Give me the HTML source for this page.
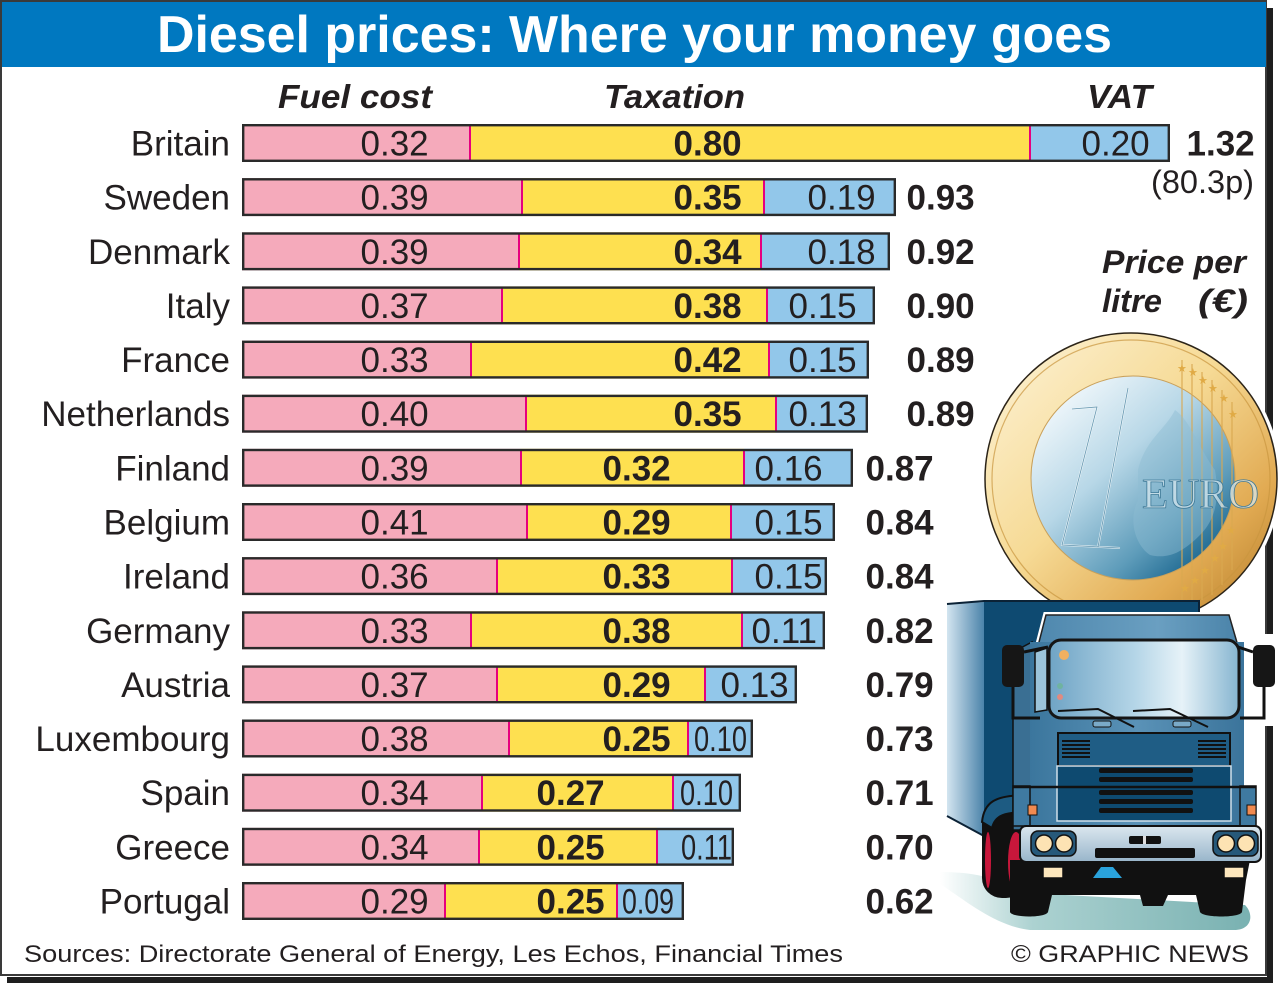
<!DOCTYPE html>
<html><head><meta charset="utf-8"><style>
html,body{margin:0;padding:0;background:#fff;}
svg{display:block;}
text{font-family:"Liberation Sans",Arial,sans-serif;fill:#231f20;}
.c{font-size:35px;text-anchor:end;}
.n{font-size:35px;}
.b{font-size:35px;font-weight:bold;}
.h{font-size:33px;font-weight:bold;font-style:italic;}
</style></head><body>
<svg width="1287" height="983" viewBox="0 0 1287 983" xmlns="http://www.w3.org/2000/svg">
<defs>
<linearGradient id="gold" x1="0" y1="0" x2="1" y2="1">
<stop offset="0" stop-color="#fdf4da"/><stop offset=".45" stop-color="#f6da95"/><stop offset=".75" stop-color="#e1aa52"/><stop offset="1" stop-color="#b07826"/></linearGradient>
<linearGradient id="cb" x1=".1" y1=".1" x2=".85" y2=".95">
<stop offset="0" stop-color="#f3f9fc"/><stop offset=".4" stop-color="#b7d7e7"/><stop offset=".75" stop-color="#5e9cba"/><stop offset="1" stop-color="#13608a"/></linearGradient>
<linearGradient id="teal" x1="0" y1="0" x2="1" y2="0">
<stop offset="0" stop-color="#ffffff"/><stop offset=".3" stop-color="#acd2d1"/><stop offset="1" stop-color="#79b1b1"/></linearGradient>
<linearGradient id="side" x1="0" y1="0" x2="1" y2="0">
<stop offset="0" stop-color="#d3e5f0"/><stop offset="1" stop-color="#4b83aa"/></linearGradient>
<linearGradient id="cab" x1="0" y1="0" x2="1" y2="0">
<stop offset="0" stop-color="#3b769d"/><stop offset=".5" stop-color="#5a92b7"/><stop offset="1" stop-color="#3b749b"/></linearGradient>
<linearGradient id="roof" x1="0" y1="0" x2="1" y2="0">
<stop offset="0" stop-color="#4f88ae"/><stop offset=".6" stop-color="#6a9fc1"/><stop offset="1" stop-color="#4a83a9"/></linearGradient>
<linearGradient id="glass" x1="0" y1="0" x2="1" y2="0">
<stop offset="0" stop-color="#6fa4c5"/><stop offset=".45" stop-color="#b4d5e7"/><stop offset=".7" stop-color="#e6f2f8"/><stop offset="1" stop-color="#86b5d0"/></linearGradient>
<linearGradient id="bump" x1="0" y1="0" x2="0" y2="1">
<stop offset="0" stop-color="#dbe7ef"/><stop offset="1" stop-color="#98b5ca"/></linearGradient>
</defs>

<!-- frame -->
<rect x="1267" y="8" width="6" height="975" fill="#1e1e1e"/>
<rect x="7" y="977" width="1266" height="6" fill="#1e1e1e"/>
<rect x="1" y="1" width="1265" height="974" fill="#fff" stroke="#3a3a3a" stroke-width="2"/>
<rect x="2" y="2" width="1264" height="65" fill="#0078c0"/>
<text x="157" y="52" font-size="52" font-weight="bold" style="fill:#fff" textLength="955" lengthAdjust="spacingAndGlyphs">Diesel prices: Where your money goes</text>

<!-- headers -->
<text class="h" x="278" y="108" textLength="154" lengthAdjust="spacingAndGlyphs">Fuel cost</text>
<text class="h" x="604" y="108" textLength="141" lengthAdjust="spacingAndGlyphs">Taxation</text>
<text class="h" x="1087" y="108" textLength="65" lengthAdjust="spacingAndGlyphs">VAT</text>

<!-- rows -->
<g transform="translate(0,124)">
<rect x="242" y="0" width="228" height="38" fill="#f5aabb"/><rect x="470" y="0" width="560" height="38" fill="#fee050"/><rect x="1030" y="0" width="140" height="38" fill="#92c7ea"/>
<line x1="470" y1="2" x2="470" y2="36" stroke="#e6007e" stroke-width="2"/><line x1="1030" y1="2" x2="1030" y2="36" stroke="#e6007e" stroke-width="2"/>
<rect x="243.2" y="1.2" width="925.6" height="35.6" fill="none" stroke="#2a2a2a" stroke-width="2.4"/>
<text class="c" x="230" y="31.5">Britain</text><text class="n" x="360.5" y="31.5">0.32</text><text class="b" x="673.5" y="31.5">0.80</text><text class="n" x="1081.5" y="31.5">0.20</text><text class="b" x="1186.5" y="31.5">1.32</text>
</g>
<text x="1151" y="193" font-size="32" textLength="103" lengthAdjust="spacingAndGlyphs">(80.3p)</text>

<g transform="translate(0,178.1)">
<rect x="242" y="0" width="280" height="38" fill="#f5aabb"/><rect x="522" y="0" width="242" height="38" fill="#fee050"/><rect x="764" y="0" width="132" height="38" fill="#92c7ea"/>
<line x1="522" y1="2" x2="522" y2="36" stroke="#e6007e" stroke-width="2"/><line x1="764" y1="2" x2="764" y2="36" stroke="#e6007e" stroke-width="2"/>
<rect x="243.2" y="1.2" width="651.6" height="35.6" fill="none" stroke="#2a2a2a" stroke-width="2.4"/>
<text class="c" x="230" y="31.5">Sweden</text><text class="n" x="360.5" y="31.5">0.39</text><text class="b" x="673.5" y="31.5">0.35</text><text class="n" x="807.5" y="31.5">0.19</text><text class="b" x="906.5" y="31.5">0.93</text>
</g>

<g transform="translate(0,232.3)">
<rect x="242" y="0" width="277" height="38" fill="#f5aabb"/><rect x="519" y="0" width="242" height="38" fill="#fee050"/><rect x="761" y="0" width="129" height="38" fill="#92c7ea"/>
<line x1="519" y1="2" x2="519" y2="36" stroke="#e6007e" stroke-width="2"/><line x1="761" y1="2" x2="761" y2="36" stroke="#e6007e" stroke-width="2"/>
<rect x="243.2" y="1.2" width="645.6" height="35.6" fill="none" stroke="#2a2a2a" stroke-width="2.4"/>
<text class="c" x="230" y="31.5">Denmark</text><text class="n" x="360.5" y="31.5">0.39</text><text class="b" x="673.5" y="31.5">0.34</text><text class="n" x="807.5" y="31.5">0.18</text><text class="b" x="906.5" y="31.5">0.92</text>
</g>

<g transform="translate(0,286.4)">
<rect x="242" y="0" width="260" height="38" fill="#f5aabb"/><rect x="502" y="0" width="265" height="38" fill="#fee050"/><rect x="767" y="0" width="108" height="38" fill="#92c7ea"/>
<line x1="502" y1="2" x2="502" y2="36" stroke="#e6007e" stroke-width="2"/><line x1="767" y1="2" x2="767" y2="36" stroke="#e6007e" stroke-width="2"/>
<rect x="243.2" y="1.2" width="630.6" height="35.6" fill="none" stroke="#2a2a2a" stroke-width="2.4"/>
<text class="c" x="230" y="31.5">Italy</text><text class="n" x="360.5" y="31.5">0.37</text><text class="b" x="673.5" y="31.5">0.38</text><text class="n" x="788.5" y="31.5">0.15</text><text class="b" x="906.5" y="31.5">0.90</text>
</g>

<g transform="translate(0,340.6)">
<rect x="242" y="0" width="229" height="38" fill="#f5aabb"/><rect x="471" y="0" width="298" height="38" fill="#fee050"/><rect x="769" y="0" width="100" height="38" fill="#92c7ea"/>
<line x1="471" y1="2" x2="471" y2="36" stroke="#e6007e" stroke-width="2"/><line x1="769" y1="2" x2="769" y2="36" stroke="#e6007e" stroke-width="2"/>
<rect x="243.2" y="1.2" width="624.6" height="35.6" fill="none" stroke="#2a2a2a" stroke-width="2.4"/>
<text class="c" x="230" y="31.5">France</text><text class="n" x="360.5" y="31.5">0.33</text><text class="b" x="673.5" y="31.5">0.42</text><text class="n" x="788.5" y="31.5">0.15</text><text class="b" x="906.5" y="31.5">0.89</text>
</g>

<g transform="translate(0,394.7)">
<rect x="242" y="0" width="284" height="38" fill="#f5aabb"/><rect x="526" y="0" width="250" height="38" fill="#fee050"/><rect x="776" y="0" width="92" height="38" fill="#92c7ea"/>
<line x1="526" y1="2" x2="526" y2="36" stroke="#e6007e" stroke-width="2"/><line x1="776" y1="2" x2="776" y2="36" stroke="#e6007e" stroke-width="2"/>
<rect x="243.2" y="1.2" width="623.6" height="35.6" fill="none" stroke="#2a2a2a" stroke-width="2.4"/>
<text class="c" x="230" y="31.5">Netherlands</text><text class="n" x="360.5" y="31.5">0.40</text><text class="b" x="673.5" y="31.5">0.35</text><text class="n" x="788.5" y="31.5">0.13</text><text class="b" x="906.5" y="31.5">0.89</text>
</g>

<g transform="translate(0,448.8)">
<rect x="242" y="0" width="279" height="38" fill="#f5aabb"/><rect x="521" y="0" width="223" height="38" fill="#fee050"/><rect x="744" y="0" width="109" height="38" fill="#92c7ea"/>
<line x1="521" y1="2" x2="521" y2="36" stroke="#e6007e" stroke-width="2"/><line x1="744" y1="2" x2="744" y2="36" stroke="#e6007e" stroke-width="2"/>
<rect x="243.2" y="1.2" width="608.6" height="35.6" fill="none" stroke="#2a2a2a" stroke-width="2.4"/>
<text class="c" x="230" y="31.5">Finland</text><text class="n" x="360.5" y="31.5">0.39</text><text class="b" x="602.5" y="31.5">0.32</text><text class="n" x="754.5" y="31.5">0.16</text><text class="b" x="865.5" y="31.5">0.87</text>
</g>

<g transform="translate(0,503)">
<rect x="242" y="0" width="285" height="38" fill="#f5aabb"/><rect x="527" y="0" width="204" height="38" fill="#fee050"/><rect x="731" y="0" width="104" height="38" fill="#92c7ea"/>
<line x1="527" y1="2" x2="527" y2="36" stroke="#e6007e" stroke-width="2"/><line x1="731" y1="2" x2="731" y2="36" stroke="#e6007e" stroke-width="2"/>
<rect x="243.2" y="1.2" width="590.6" height="35.6" fill="none" stroke="#2a2a2a" stroke-width="2.4"/>
<text class="c" x="230" y="31.5">Belgium</text><text class="n" x="360.5" y="31.5">0.41</text><text class="b" x="602.5" y="31.5">0.29</text><text class="n" x="754.5" y="31.5">0.15</text><text class="b" x="865.5" y="31.5">0.84</text>
</g>

<g transform="translate(0,557.1)">
<rect x="242" y="0" width="255" height="38" fill="#f5aabb"/><rect x="497" y="0" width="235" height="38" fill="#fee050"/><rect x="732" y="0" width="95" height="38" fill="#92c7ea"/>
<line x1="497" y1="2" x2="497" y2="36" stroke="#e6007e" stroke-width="2"/><line x1="732" y1="2" x2="732" y2="36" stroke="#e6007e" stroke-width="2"/>
<rect x="243.2" y="1.2" width="582.6" height="35.6" fill="none" stroke="#2a2a2a" stroke-width="2.4"/>
<text class="c" x="230" y="31.5">Ireland</text><text class="n" x="360.5" y="31.5">0.36</text><text class="b" x="602.5" y="31.5">0.33</text><text class="n" x="754.5" y="31.5">0.15</text><text class="b" x="865.5" y="31.5">0.84</text>
</g>

<g transform="translate(0,611.3)">
<rect x="242" y="0" width="229" height="38" fill="#f5aabb"/><rect x="471" y="0" width="271" height="38" fill="#fee050"/><rect x="742" y="0" width="83" height="38" fill="#92c7ea"/>
<line x1="471" y1="2" x2="471" y2="36" stroke="#e6007e" stroke-width="2"/><line x1="742" y1="2" x2="742" y2="36" stroke="#e6007e" stroke-width="2"/>
<rect x="243.2" y="1.2" width="580.6" height="35.6" fill="none" stroke="#2a2a2a" stroke-width="2.4"/>
<text class="c" x="230" y="31.5">Germany</text><text class="n" x="360.5" y="31.5">0.33</text><text class="b" x="602.5" y="31.5">0.38</text><text class="n" x="751.5" y="31.5">0.11</text><text class="b" x="865.5" y="31.5">0.82</text>
</g>

<g transform="translate(0,665.4)">
<rect x="242" y="0" width="255" height="38" fill="#f5aabb"/><rect x="497" y="0" width="208" height="38" fill="#fee050"/><rect x="705" y="0" width="92" height="38" fill="#92c7ea"/>
<line x1="497" y1="2" x2="497" y2="36" stroke="#e6007e" stroke-width="2"/><line x1="705" y1="2" x2="705" y2="36" stroke="#e6007e" stroke-width="2"/>
<rect x="243.2" y="1.2" width="552.6" height="35.6" fill="none" stroke="#2a2a2a" stroke-width="2.4"/>
<text class="c" x="230" y="31.5">Austria</text><text class="n" x="360.5" y="31.5">0.37</text><text class="b" x="602.5" y="31.5">0.29</text><text class="n" x="720.5" y="31.5">0.13</text><text class="b" x="865.5" y="31.5">0.79</text>
</g>

<g transform="translate(0,719.5)">
<rect x="242" y="0" width="267" height="38" fill="#f5aabb"/><rect x="509" y="0" width="179" height="38" fill="#fee050"/><rect x="688" y="0" width="65" height="38" fill="#92c7ea"/>
<line x1="509" y1="2" x2="509" y2="36" stroke="#e6007e" stroke-width="2"/><line x1="688" y1="2" x2="688" y2="36" stroke="#e6007e" stroke-width="2"/>
<rect x="243.2" y="1.2" width="508.6" height="35.6" fill="none" stroke="#2a2a2a" stroke-width="2.4"/>
<text class="c" x="230" y="31.5">Luxembourg</text><text class="n" x="360.5" y="31.5">0.38</text><text class="b" x="602.5" y="31.5">0.25</text><text class="n" x="694" y="31.5" textLength="53" lengthAdjust="spacingAndGlyphs">0.10</text><text class="b" x="865.5" y="31.5">0.73</text>
</g>

<g transform="translate(0,773.7)">
<rect x="242" y="0" width="240" height="38" fill="#f5aabb"/><rect x="482" y="0" width="191" height="38" fill="#fee050"/><rect x="673" y="0" width="68" height="38" fill="#92c7ea"/>
<line x1="482" y1="2" x2="482" y2="36" stroke="#e6007e" stroke-width="2"/><line x1="673" y1="2" x2="673" y2="36" stroke="#e6007e" stroke-width="2"/>
<rect x="243.2" y="1.2" width="496.6" height="35.6" fill="none" stroke="#2a2a2a" stroke-width="2.4"/>
<text class="c" x="230" y="31.5">Spain</text><text class="n" x="360.5" y="31.5">0.34</text><text class="b" x="536.5" y="31.5">0.27</text><text class="n" x="680" y="31.5" textLength="53" lengthAdjust="spacingAndGlyphs">0.10</text><text class="b" x="865.5" y="31.5">0.71</text>
</g>

<g transform="translate(0,827.8)">
<rect x="242" y="0" width="237" height="38" fill="#f5aabb"/><rect x="479" y="0" width="178" height="38" fill="#fee050"/><rect x="657" y="0" width="76" height="38" fill="#92c7ea"/>
<line x1="479" y1="2" x2="479" y2="36" stroke="#e6007e" stroke-width="2"/><line x1="657" y1="2" x2="657" y2="36" stroke="#e6007e" stroke-width="2"/>
<rect x="243.2" y="1.2" width="489.6" height="35.6" fill="none" stroke="#2a2a2a" stroke-width="2.4"/>
<text class="c" x="230" y="31.5">Greece</text><text class="n" x="360.5" y="31.5">0.34</text><text class="b" x="536.5" y="31.5">0.25</text><text class="n" x="681" y="31.5" textLength="51" lengthAdjust="spacingAndGlyphs">0.11</text><text class="b" x="865.5" y="31.5">0.70</text>
</g>

<g transform="translate(0,882)">
<rect x="242" y="0" width="203" height="38" fill="#f5aabb"/><rect x="445" y="0" width="172" height="38" fill="#fee050"/><rect x="617" y="0" width="66" height="38" fill="#92c7ea"/>
<line x1="445" y1="2" x2="445" y2="36" stroke="#e6007e" stroke-width="2"/><line x1="617" y1="2" x2="617" y2="36" stroke="#e6007e" stroke-width="2"/>
<rect x="243.2" y="1.2" width="439.6" height="35.6" fill="none" stroke="#2a2a2a" stroke-width="2.4"/>
<text class="c" x="230" y="31.5">Portugal</text><text class="n" x="360.5" y="31.5">0.29</text><text class="b" x="536.5" y="31.5">0.25</text><text class="n" x="622" y="31.5" textLength="52" lengthAdjust="spacingAndGlyphs">0.09</text><text class="b" x="865.5" y="31.5">0.62</text>
</g>

<!-- price per litre -->
<text x="1102" y="273" font-size="32" font-weight="bold" font-style="italic" textLength="144" lengthAdjust="spacingAndGlyphs">Price per</text>
<text x="1102" y="312" font-size="32" font-weight="bold" font-style="italic" textLength="60" lengthAdjust="spacingAndGlyphs">litre</text>
<text x="1198" y="312" font-size="32" font-weight="bold" font-style="italic" textLength="50" lengthAdjust="spacingAndGlyphs">(€)</text>

<!-- coin -->
<circle cx="1131" cy="479" r="150" fill="#fff"/>
<circle cx="1131" cy="479" r="146" fill="url(#gold)" stroke="#2c2418" stroke-width="1.5"/>
<circle cx="1131" cy="479" r="139" fill="none" stroke="#c9953e" stroke-width="1.2" opacity=".7"/>
<circle cx="1133" cy="478" r="102" fill="url(#cb)" stroke="#c9a05a" stroke-width="1"/>
<g stroke="#d9a850" stroke-width="1.3" opacity=".85">
<line x1="1182" y1="360" x2="1182" y2="600"/><line x1="1192" y1="364" x2="1192" y2="600"/><line x1="1202" y1="372" x2="1202" y2="600"/><line x1="1212" y1="380" x2="1212" y2="595"/><line x1="1222" y1="390" x2="1222" y2="585"/><line x1="1232" y1="402" x2="1232" y2="570"/>
</g>
<g font-size="11" style="fill:#e0aa45">
<text x="1177" y="372" style="fill:#e0aa45">★</text><text x="1188" y="376" style="fill:#e0aa45">★</text><text x="1198" y="384" style="fill:#e0aa45">★</text><text x="1208" y="392" style="fill:#e0aa45">★</text><text x="1219" y="402" style="fill:#e0aa45">★</text><text x="1228" y="418" style="fill:#e0aa45">★</text>
<text x="1226" y="534" style="fill:#e0aa45">★</text><text x="1218" y="550" style="fill:#e0aa45">★</text><text x="1210" y="562" style="fill:#e0aa45">★</text><text x="1200" y="574" style="fill:#e0aa45">★</text><text x="1190" y="584" style="fill:#e0aa45">★</text><text x="1180" y="592" style="fill:#e0aa45">★</text>
</g>
<path d="M1072,409 L1097,407 L1062,545 L1120,548 M1128,388 L1098,547" fill="none" stroke="#eef6fa" stroke-width="2" opacity=".9"/>
<path d="M1072,409 L1097,407 L1062,545 L1120,548 M1128,388 L1098,547" fill="none" stroke="#2c6f92" stroke-width=".8" opacity=".7"/>
<path d="M1138,470 C1145,440 1165,430 1175,410 C1190,420 1200,450 1215,470 C1220,500 1215,520 1200,535 C1185,550 1170,560 1150,555 C1135,545 1128,520 1138,500 Z" fill="#8fbcd2" opacity=".45"/>
<text x="1142" y="508" font-size="42" textLength="117" lengthAdjust="spacingAndGlyphs" style="font-family:'Liberation Serif',serif;fill:#dbe9f0;fill-opacity:.7;stroke:#3f7a98;stroke-width:.8">EURO</text>

<!-- truck -->
<path d="M940,872 C975,872 1000,878 1012,892 L1245,905 C1254,914 1252,929 1236,930 L1030,930 C995,926 965,900 940,884 Z" fill="url(#teal)"/>
<path d="M947,604 L984,602 L984,836 L947,816 Z" fill="url(#side)"/>
<rect x="984" y="601" width="215" height="235" fill="#0e4a71"/>
<path d="M947,604 L984,601 L1199,601 L1199,616" stroke="#0b2236" stroke-width="2" fill="none"/>
<line x1="947" y1="816" x2="984" y2="836" stroke="#0b2236" stroke-width="2"/>
<rect x="982" y="800" width="44" height="98" rx="20" fill="#111"/>
<ellipse cx="1016" cy="862" rx="8" ry="30" fill="#c8173b"/>
<ellipse cx="988" cy="860" rx="3" ry="28" fill="#c8173b"/>
<path d="M982,822 C984,802 995,795 1028,795 L1028,812 C1005,812 995,815 992,828 Z" fill="#1d5b82" stroke="#111" stroke-width="2"/>

<path d="M1046,615 L1229,615 L1238,646 L1038,646 Z" fill="#fff" stroke="#fff" stroke-width="6"/>
<path d="M1046,615 L1229,615 L1238,646 L1038,646 Z" fill="url(#roof)" stroke="#222" stroke-width="1.5"/>
<path d="M1013,652 L1032,642 L1032,830 L1013,830 Z" fill="#3a6f93" stroke="#111" stroke-width="1.5"/>
<rect x="1030" y="642" width="214" height="190" fill="url(#cab)"/>
<path d="M1035,652 L1047,648 L1047,710 L1035,712 Z" fill="#9cc4da" stroke="#111" stroke-width="1.5"/>
<rect x="1049" y="640" width="190" height="78" rx="12" fill="url(#glass)" stroke="#151515" stroke-width="3"/>
<circle cx="1064" cy="655" r="5" fill="#f0b060"/>
<circle cx="1060" cy="686" r="3" fill="#6fb3a0"/>
<circle cx="1060" cy="697" r="3" fill="#e08a80"/>
<path d="M1058,711 L1098,709 L1134,727 M1133,711 L1170,709 L1208,727" fill="none" stroke="#111" stroke-width="2"/>
<rect x="1093" y="721" width="18" height="6" rx="2" fill="#7aaac8" stroke="#111" stroke-width="1"/>
<rect x="1173" y="721" width="18" height="6" rx="2" fill="#7aaac8" stroke="#111" stroke-width="1"/>

<rect x="1002" y="645" width="22" height="42" rx="5" fill="#161616"/>
<path d="M1013,687 L1013,718 L1040,718 M1024,652 L1048,647" fill="none" stroke="#111" stroke-width="3"/>
<rect x="1250" y="634" width="32" height="92" rx="8" fill="#fff"/>
<rect x="1253" y="645" width="22" height="42" rx="5" fill="#161616"/>
<path d="M1264,687 L1264,718 L1240,718 M1253,652 L1238,647" fill="none" stroke="#111" stroke-width="3"/>

<rect x="1058" y="733" width="172" height="33" fill="#1f5d85" stroke="#111" stroke-width="2"/>
<g stroke="#111" stroke-width="2">
<line x1="1062" y1="741" x2="1090" y2="741"/><line x1="1062" y1="745" x2="1090" y2="745"/><line x1="1062" y1="749" x2="1090" y2="749"/><line x1="1062" y1="753" x2="1090" y2="753"/><line x1="1062" y1="757" x2="1090" y2="757"/>
<line x1="1198" y1="741" x2="1226" y2="741"/><line x1="1198" y1="745" x2="1226" y2="745"/><line x1="1198" y1="749" x2="1226" y2="749"/><line x1="1198" y1="753" x2="1226" y2="753"/><line x1="1198" y1="757" x2="1226" y2="757"/>
</g>
<rect x="1057" y="766" width="174" height="55" fill="#0e4a70" stroke="#d0e0ea" stroke-width="1.5"/>
<g fill="#111">
<rect x="1099" y="768" width="94" height="5" rx="2"/><rect x="1099" y="777" width="94" height="5" rx="2"/><rect x="1099" y="790" width="94" height="5" rx="2"/><rect x="1099" y="799" width="94" height="5" rx="2"/><rect x="1099" y="808" width="94" height="5" rx="2"/>
</g>
<rect x="1013" y="786" width="17" height="40" fill="#3f7aa1" stroke="#111" stroke-width="1.5"/>
<rect x="1240" y="786" width="16" height="40" fill="#3f7aa1" stroke="#111" stroke-width="1.5"/>
<line x1="1013" y1="787" x2="1256" y2="787" stroke="#111" stroke-width="2.5"/>
<rect x="1028" y="805" width="9" height="10" fill="#f08a50" stroke="#111" stroke-width="1"/>
<rect x="1247" y="805" width="9" height="10" fill="#f08a50" stroke="#111" stroke-width="1"/>

<path d="M1010,860 L1250,860 L1246,880 L1242,912 C1240,918 1203,918 1200,912 L1196,895 L1168,895 L1163,906 L1143,906 L1140,895 L1052,895 L1048,912 C1046,918 1012,918 1010,912 Z" fill="#111"/>
<polygon points="1093,878 1122,878 1113,867 1101,867" fill="#2aa3dc"/>
<rect x="1020" y="826" width="241" height="36" rx="6" fill="url(#bump)" stroke="#111" stroke-width="2"/>
<rect x="1031" y="831" width="45" height="25" rx="7" fill="#27597a" stroke="#111" stroke-width="1.5"/>
<circle cx="1044" cy="843.5" r="8.5" fill="#fde3b3" stroke="#111" stroke-width="1.5"/>
<circle cx="1064" cy="843.5" r="8.5" fill="#fde3b3" stroke="#111" stroke-width="1.5"/>
<rect x="1213" y="831" width="45" height="25" rx="7" fill="#27597a" stroke="#111" stroke-width="1.5"/>
<circle cx="1226" cy="843.5" r="8.5" fill="#fde3b3" stroke="#111" stroke-width="1.5"/>
<circle cx="1246" cy="843.5" r="8.5" fill="#fde3b3" stroke="#111" stroke-width="1.5"/>
<rect x="1129" y="836" width="32" height="8" rx="2" fill="#111"/>
<rect x="1143" y="836" width="3" height="8" fill="#ddd"/>
<rect x="1095" y="848" width="100" height="10" rx="2" fill="#111"/>
<rect x="1043" y="867" width="20" height="11" fill="#fde7bd" stroke="#111" stroke-width="1.5"/>
<rect x="1224" y="867" width="20" height="11" fill="#fde7bd" stroke="#111" stroke-width="1.5"/>

<!-- footer -->
<text x="24" y="962" font-size="24" textLength="819" lengthAdjust="spacingAndGlyphs">Sources: Directorate General of Energy, Les Echos, Financial Times</text>
<text x="1011" y="962" font-size="24" textLength="238" lengthAdjust="spacingAndGlyphs">© GRAPHIC NEWS</text>
</svg>
</body></html>
